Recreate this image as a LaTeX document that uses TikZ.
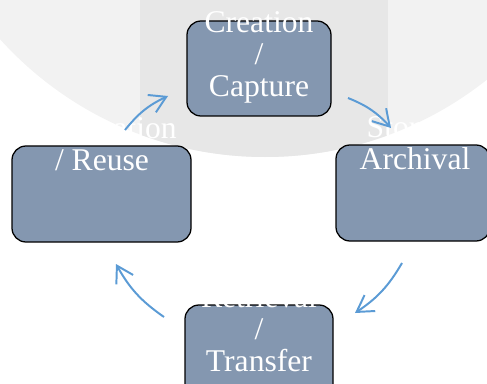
\documentclass[tikz,border=0pt]{standalone}
\usepackage{fontspec}
\setmainfont{Liberation Serif}
\usetikzlibrary{arrows.meta}

\definecolor{ringgray}{HTML}{F2F2F2}
\definecolor{bandgray}{HTML}{E7E7E7}
\definecolor{stagefill}{HTML}{8497B0}
\definecolor{cycleblue}{HTML}{5B9BD5}

\begin{document}
\begin{tikzpicture}[
    stage/.style={rectangle, rounded corners=3.5mm, draw=black, line width=0.9pt, fill=stagefill},
    stagetext/.style={anchor=north, inner sep=0pt, align=center, text=white, font=\fontsize{22.5}{22.8}\selectfont},
    cycle/.style={-{Straight Barb[length=4mm, width=4.8mm]}, line width=1.4pt, draw=cycleblue, bend left=13}
]
\useasboundingbox (0,0) rectangle (12.175,9.575);
\clip (0,0) rectangle (12.175,9.575);

% Backdrop
\fill[ringgray] (6.625,14.575) circle (8.925);
\begin{scope}
  \clip (6.625,14.575) circle (8.925);
  \fill[bandgray] (3.5,0) rectangle (9.7,9.575);
\end{scope}

% Stages
\node[stage, minimum width=3.6cm, minimum height=2.375cm] (creation) at (6.475, 7.8625) {};
\node[stage, minimum width=3.85cm, minimum height=2.4cm] (storage) at (10.325, 4.75) {};
\node[stage, minimum width=3.7cm, minimum height=2.375cm] (retrieval) at (6.475, 0.7625) {};
\node[stage, minimum width=4.475cm, minimum height=2.4cm] (reuse) at (2.5375, 4.725) {};

% Labels
\node[stagetext] (creationtxt) at (6.475, 9.3) {Creation\\/\\Capture};
\node[stagetext] (storagetxt) at (10.375, 6.675) {Storage\\Archival};
\node[stagetext] (retrievaltxt) at (6.475, 2.45) {Retrieval\\/\\Transfer};
\node[stagetext] (reusetxt) at (2.55, 6.675) {Application\\/ Reuse};

% Cycle arrows
\coordinate (reuseout) at (3.125, 6.325);
\coordinate (creationin) at (4.2, 7.175);
\coordinate (creationout) at (8.7, 7.125);
\coordinate (storagein) at (9.775, 6.375);
\coordinate (storageout) at (10.05, 3.0);
\coordinate (retrievalin) at (8.875, 1.75);
\coordinate (retrievalout) at (4.1, 1.65);
\coordinate (reusein) at (2.9, 2.975);

\draw[cycle] (reuseout) to (creationin);
\draw[cycle] (creationout) to (storagein);
\draw[cycle] (storageout) to (retrievalin);
\draw[cycle] (retrievalout) to (reusein);

\end{tikzpicture}
\end{document}
